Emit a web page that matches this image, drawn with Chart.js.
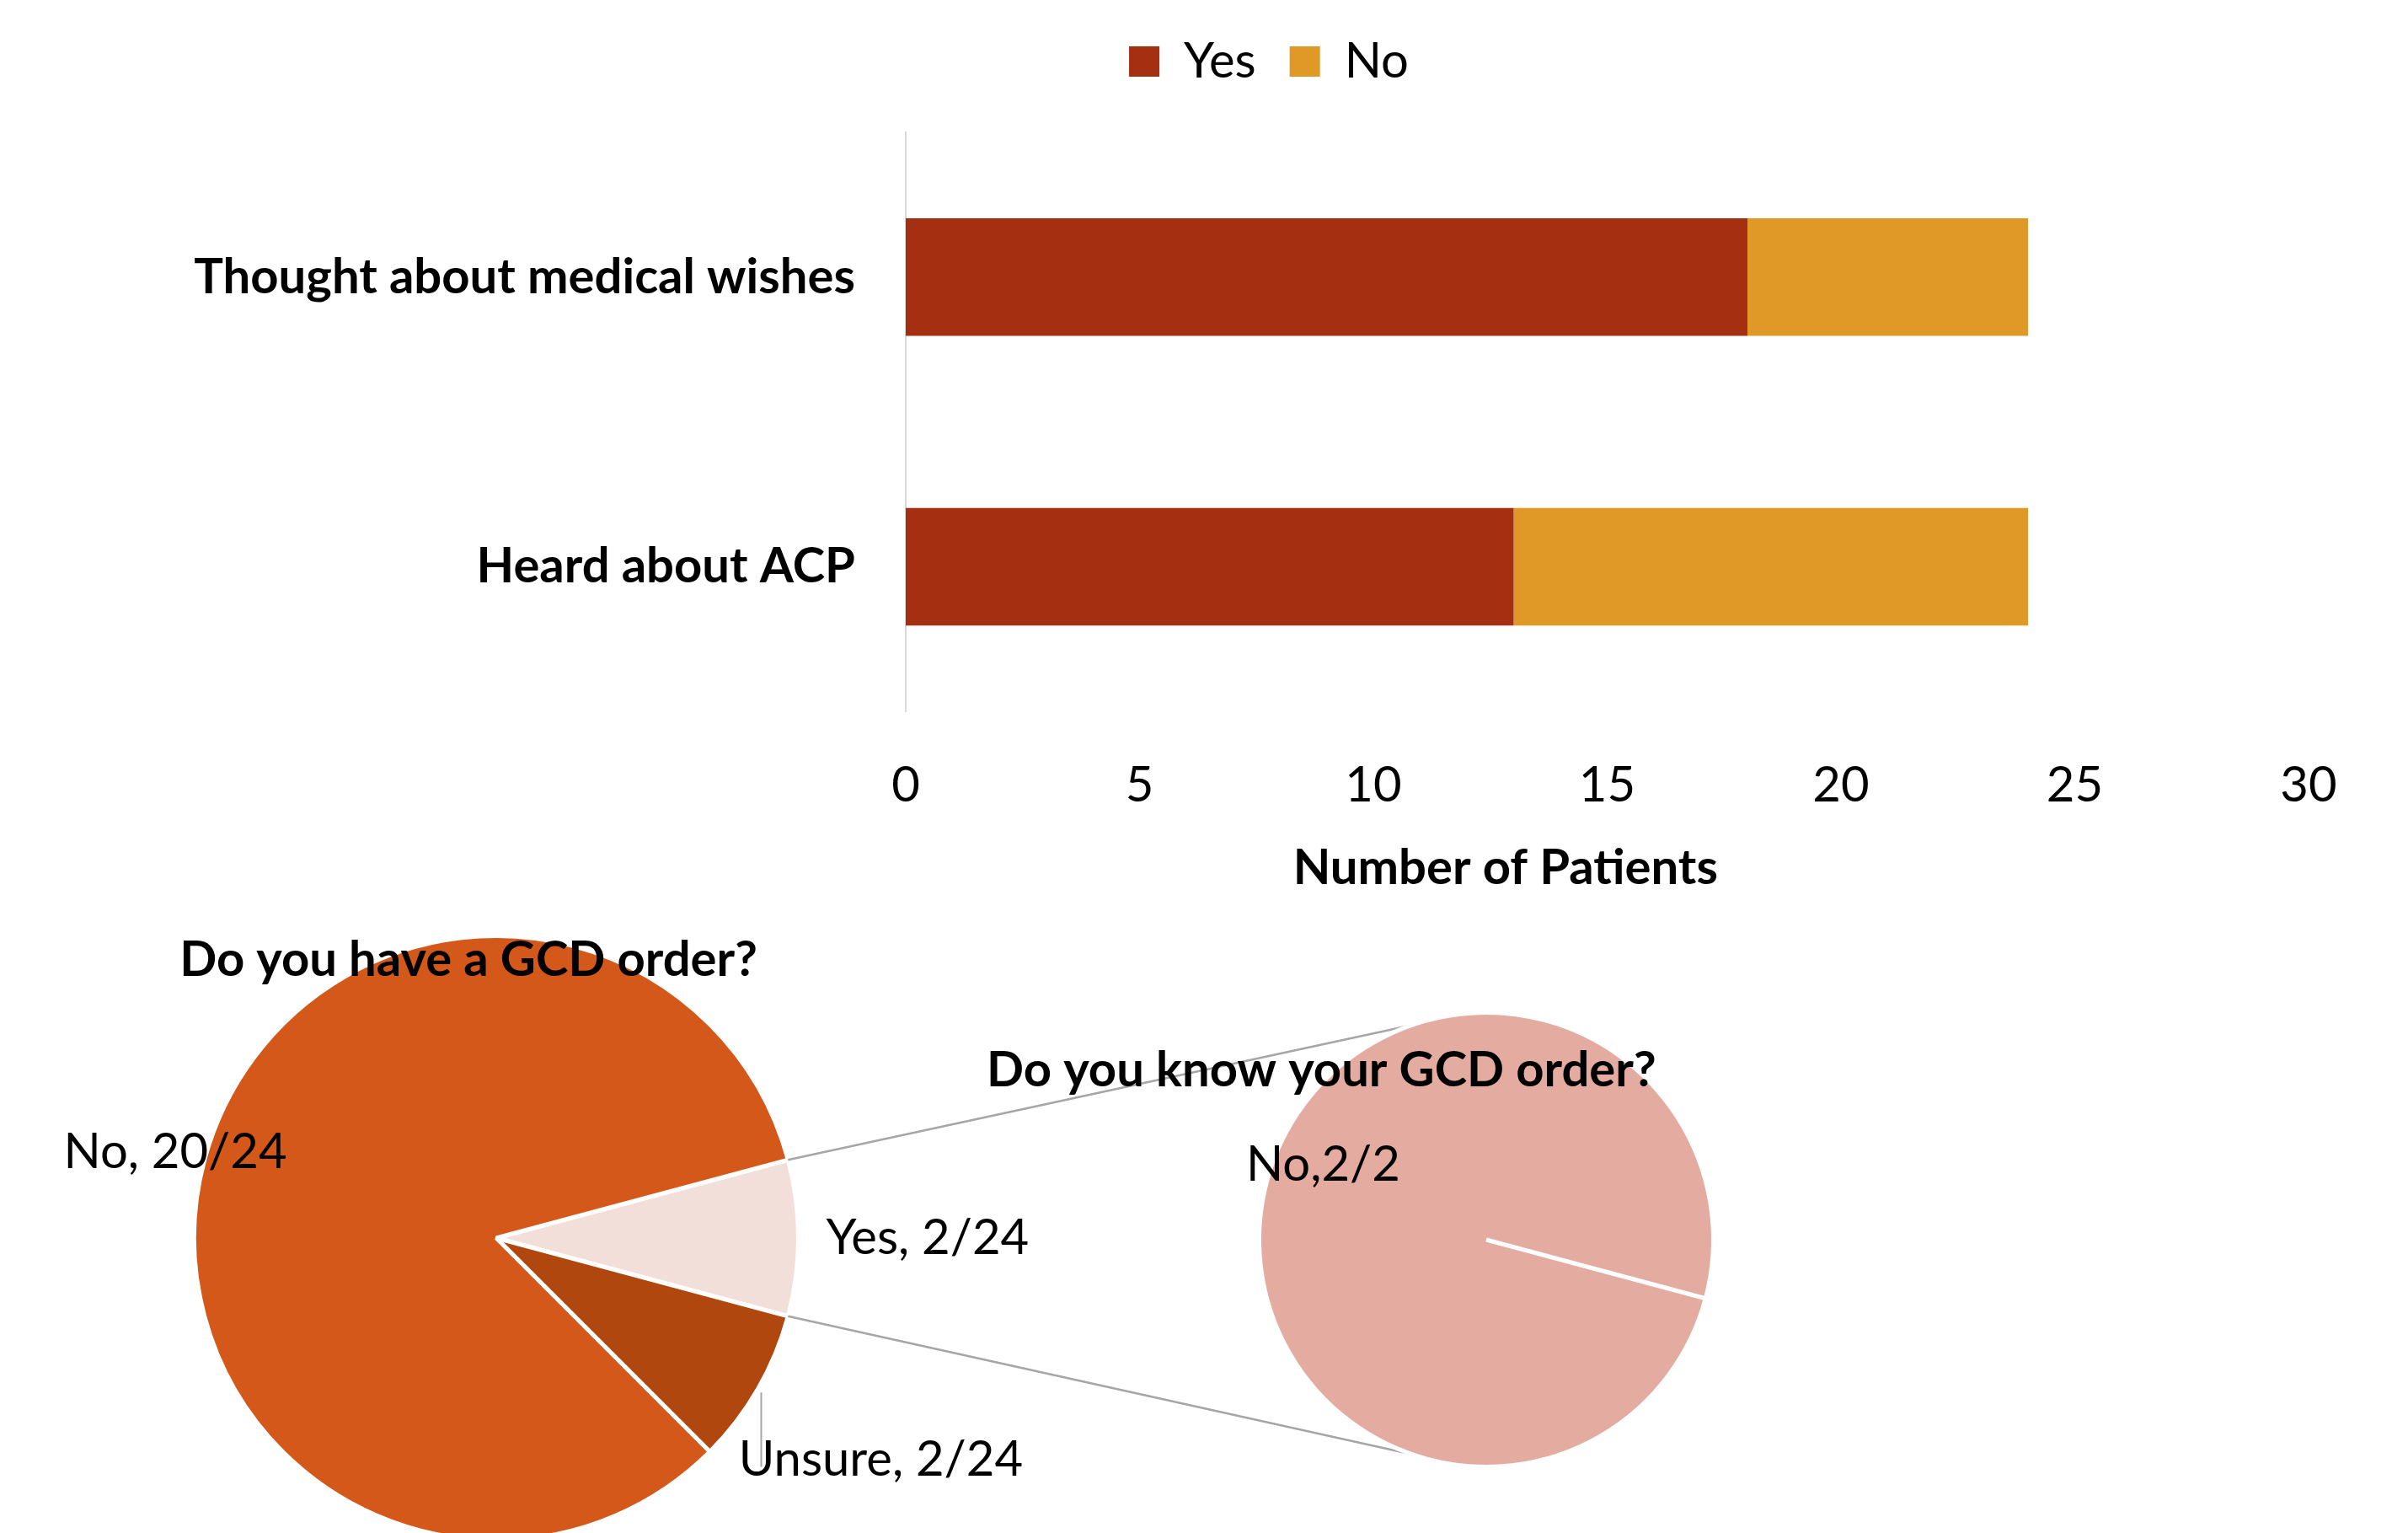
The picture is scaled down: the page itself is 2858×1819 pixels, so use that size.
<!DOCTYPE html>
<html>
<head>
<meta charset="utf-8">
<title>Advance care planning survey</title>
<script src="https://cdn.jsdelivr.net/npm/chart.js@4.4.1/dist/chart.umd.min.js"></script>
<style>
  html, body { margin: 0; padding: 0; background: #fff; }
  #page { position: relative; width: 2858px; height: 1819px; overflow: hidden; }
  .layer { position: absolute; left: 0; top: 0; width: 2858px; height: 1819px; }
  .layer.tall { height: 1900px; }
</style>
</head>
<body>
<div id="page">
  <div class="layer"><canvas id="barChart"></canvas></div>
  <div class="layer tall"><canvas id="havePie"></canvas></div>
  <div class="layer"><canvas id="knowPie"></canvas></div>
</div>
<script>
// bar chart data
const questions = ["Thought about medical wishes", "Heard about ACP"];
const yesCounts = [18, 13];
const noCounts = [6, 11];
const patientTicks = [0, 5, 10, 15, 20, 25, 30];

// pie data
const haveLabels = ["Yes", "Unsure", "No"];
const haveCounts = [2, 2, 20];
const knowLabels = ["No"];
const knowCounts = [2];

Chart.defaults.font.family = "Lato";
Chart.defaults.font.size = 58;
Chart.defaults.color = "#000";

// extra room between the legend and the bars, and legend centred over the plot
const legendTweak = {
  id: "legendTweak",
  beforeInit(chart) {
    const fit = chart.legend.fit;
    chart.legend.fit = function () {
      fit.bind(chart.legend)();
      this.height += 45;
    };
  },
  afterLayout(chart) {
    chart.legend.left += 61;
    chart.legend.right += 61;
  },
};

const axisTitle = {
  id: "axisTitle",
  afterDraw(chart, args, opts) {
    const { ctx, chartArea } = chart;
    ctx.save();
    ctx.font = opts.font;
    ctx.fillStyle = "#000";
    ctx.textAlign = "center";
    ctx.textBaseline = "middle";
    ctx.fillText(opts.text, chartArea.left + chartArea.width * opts.xFrac, chartArea.bottom + opts.offsetY);
    ctx.restore();
  },
};

// "Label, n/total" next to each slice, plus the pie's own heading
const sliceLabels = {
  id: "sliceLabels",
  afterDatasetsDraw(chart, args, opts) {
    const { ctx } = chart;
    const meta = chart.getDatasetMeta(0);
    const counts = chart.data.datasets[0].data;
    const total = counts.reduce((a, b) => a + b, 0);
    ctx.save();
    ctx.textBaseline = "middle";
    meta.data.forEach((arc, i) => {
      const place = opts.places[i];
      const mid = place.angle !== undefined ? place.angle * Math.PI / 180 : (arc.startAngle + arc.endAngle) / 2;
      const r = arc.outerRadius;
      const tx = arc.x + Math.cos(mid) * r * place.dist;
      const ty = arc.y + Math.sin(mid) * r * place.dist;
      if (place.leader !== undefined) {
        const ex = arc.x + Math.cos(mid) * r;
        const ey = arc.y + Math.sin(mid) * r;
        ctx.strokeStyle = "#a6a6a6";
        ctx.lineWidth = 2;
        ctx.beginPath();
        ctx.moveTo(ex + 4, ey + 4);
        ctx.lineTo(ex + 4, ty - place.leader);
        ctx.stroke();
      }
      ctx.font = opts.font;
      ctx.fillStyle = "#000";
      ctx.textAlign = place.align || "center";
      ctx.fillText(chart.data.labels[i] + opts.sep + counts[i] + "/" + total, tx, ty);
    });
    const c = meta.data[0];
    ctx.font = opts.titleFont;
    ctx.textAlign = "center";
    ctx.fillText(opts.title, c.x + c.outerRadius * opts.titleAt[0], c.y + c.outerRadius * opts.titleAt[1]);
    ctx.restore();
  },
};

new Chart(document.getElementById("barChart"), {
  type: "bar",
  data: {
    labels: questions,
    datasets: [
      { label: "Yes", data: yesCounts, backgroundColor: "#a52f11" },
      { label: "No", data: noCounts, backgroundColor: "#e09827" },
    ],
  },
  options: {
    indexAxis: "y",
    responsive: true,
    maintainAspectRatio: false,
    animation: false,
    categoryPercentage: 1,
    barPercentage: 0.406,
    layout: { padding: { top: 4, left: 150, right: 118, bottom: 799 } },
    plugins: {
      legend: {
        display: true,
        position: "top",
        labels: { boxWidth: 36, boxHeight: 36, padding: 40, font: { size: 58 } },
      },
      tooltip: { enabled: false },
      axisTitle: { text: "Number of Patients", xFrac: 0.4275, offsetY: 186, font: "bold 58px Lato" },
    },
    scales: {
      x: {
        stacked: true,
        min: patientTicks[0],
        max: patientTicks[patientTicks.length - 1],
        ticks: { stepSize: patientTicks[1] - patientTicks[0], padding: 53 },
        grid: { display: false, drawTicks: false },
        border: { display: false },
      },
      y: {
        stacked: true,
        afterFit: function (scale) {
          scale.width = 925;
        },
        ticks: { padding: 60, font: { size: 58, weight: "bold" } },
        grid: { display: false, drawTicks: false },
        border: { display: true, color: "#d9d9d9", width: 2 },
      },
    },
  },
  plugins: [legendTweak, axisTitle],
});

const haveChart = new Chart(document.getElementById("havePie"), {
  type: "pie",
  data: {
    labels: haveLabels,
    datasets: [
      {
        data: haveCounts,
        backgroundColor: ["#f3dfda", "#b0470f", "#d4581a"],
        borderColor: "#fff",
        borderWidth: 5,
      },
    ],
  },
  options: {
    responsive: true,
    maintainAspectRatio: false,
    animation: false,
    rotation: 75,
    layout: { padding: { top: 1108, left: 228, right: 1908, bottom: 70 } },
    plugins: {
      legend: { display: false },
      tooltip: { enabled: false },
      sliceLabels: {
        font: "58px Lato",
        titleFont: "bold 58px Lato",
        sep: ", ",
        title: "Do you have a GCD order?",
        titleAt: [-0.092, -0.919],
        places: [
          { dist: 1.092, align: "left" },
          { dist: 1.47, leader: -8 },
          { dist: 1.1 },
        ],
      },
    },
  },
  plugins: [sliceLabels],
});

// grey lines joining the "Yes" slice to the second pie
const pieConnector = {
  id: "pieConnector",
  beforeDatasetsDraw(chart, args, opts) {
    const src = haveChart.getDatasetMeta(0).data[0];
    const dst = chart.getDatasetMeta(0).data[0];
    const ends = [
      [src.startAngle, -opts.spread],
      [src.endAngle, opts.spread],
    ];
    const { ctx } = chart;
    ctx.save();
    ctx.strokeStyle = "#a6a6a6";
    ctx.lineWidth = 2.5;
    ends.forEach(([a, b]) => {
      const rb = b * Math.PI / 180;
      ctx.beginPath();
      ctx.moveTo(src.x + Math.cos(a) * src.outerRadius, src.y + Math.sin(a) * src.outerRadius);
      ctx.lineTo(dst.x + Math.cos(rb) * dst.outerRadius, dst.y + Math.sin(rb) * dst.outerRadius);
      ctx.stroke();
    });
    ctx.restore();
  },
};

new Chart(document.getElementById("knowPie"), {
  type: "pie",
  data: {
    labels: knowLabels,
    datasets: [
      {
        data: knowCounts,
        backgroundColor: ["#e4aca1"],
        borderColor: "#fff",
        borderWidth: 5,
      },
    ],
  },
  options: {
    responsive: true,
    maintainAspectRatio: false,
    animation: false,
    rotation: 105,
    layout: { padding: { top: 1199, left: 1492, right: 822, bottom: 76 } },
    plugins: {
      legend: { display: false },
      tooltip: { enabled: false },
      pieConnector: { spread: 109 },
      sliceLabels: {
        font: "58px Lato",
        titleFont: "bold 58px Lato",
        sep: ",",
        title: "Do you know your GCD order?",
        titleAt: [-0.726, -0.744],
        places: [{ angle: 204.6, dist: 0.79 }],
      },
    },
  },
  plugins: [pieConnector, sliceLabels],
});
</script>
</body>
</html>
